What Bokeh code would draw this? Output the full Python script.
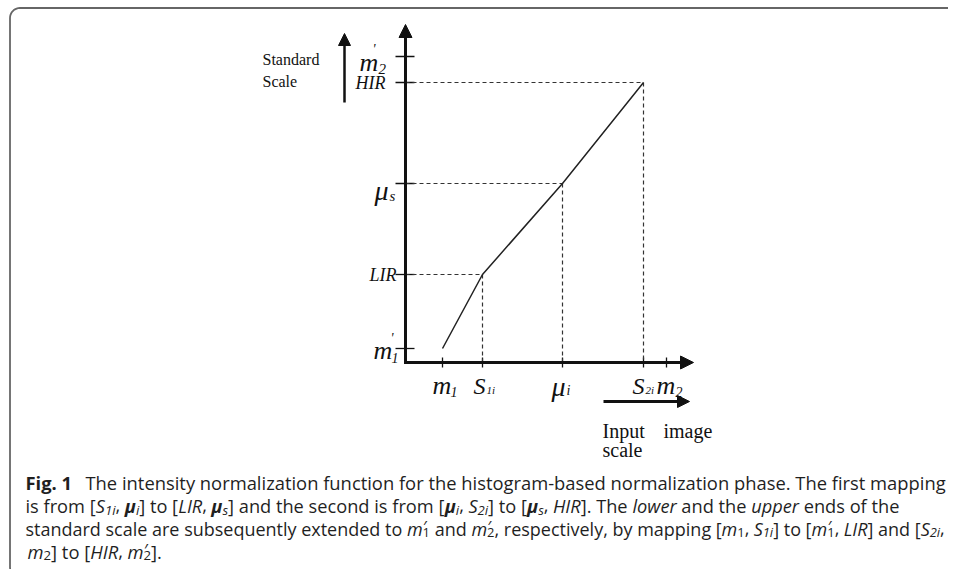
import os
import math
import struct

from bokeh.plotting import figure
from bokeh.models import Range1d, Label, Arrow, NormalHead
from bokeh.embed import file_html
from bokeh.resources import INLINE

# ---- diagram data (positions along the input / standard scales) ----
input_names = ["m1", "S1i", "mu_i", "S2i", "m2"]
input_vals = [37, 77, 157, 238, 261]
output_names = ["m1p", "LIR", "mu_s", "HIR", "m2p"]
output_vals = [14, 88, 179, 280, 306]

# mapping curve: m1->m'1, S1i->LIR, mu_i->mu_s, S2i->HIR
curve_x = [input_vals[0], input_vals[1], input_vals[2], input_vals[3]]
curve_y = [output_vals[0], output_vals[1], output_vals[2], output_vals[3]]

# dashed guides at the three landmarks
guide_x = [input_vals[1], input_vals[2], input_vals[3]]
guide_y = [output_vals[1], output_vals[2], output_vals[3]]


# ---- caption runs ----
def T(text, style="normal"):
    return ("t", text, style)


def SUB(text, style="italic"):
    return ("sub", text, style)


def SS(sup, sub):
    return ("ss", sup, sub)


caption_head = "Fig. 1"
caption_line1 = [T("The intensity normalization function for the histogram-based normalization phase. The first mapping")]
caption_line2 = [T("is from ["), T("S", "italic"), SUB("1i"), T(", "), T("\u03bc", "bold italic"), SUB("i"),
                 T("] to ["), T("LIR", "italic"), T(", "), T("\u03bc", "bold italic"), SUB("s"),
                 T("] and the second is from ["), T("\u03bc", "bold italic"), SUB("i"), T(", "),
                 T("S", "italic"), SUB("2i"), T("] to ["), T("\u03bc", "bold italic"), SUB("s"), T(", "),
                 T("HIR", "italic"), T("]. The "), T("lower", "italic"), T(" and the "), T("upper", "italic"),
                 T(" ends of the")]
caption_line3 = [T("standard scale are subsequently extended to "), T("m", "italic"), SS("\u2032", "1"),
                 T(" and "), T("m", "italic"), SS("\u2032", "2"), T(", respectively, by mapping ["),
                 T("m", "italic"), SUB("1", "normal"), T(", "), T("S", "italic"), SUB("1i"), T("] to ["),
                 T("m", "italic"), SS("\u2032", "1"), T(", "), T("LIR", "italic"), T("] and ["),
                 T("S", "italic"), SUB("2i"), T(",")]
caption_line4 = [T("m", "italic"), SUB("2", "normal"), T("] to ["), T("HIR", "italic"), T(", "),
                 T("m", "italic"), SS("\u2032", "2"), T("].")]
caption_baselines = [482, 505, 528, 551]

CAP_FONT = "Open Sans"
SERIF = "Liberation Serif"


# ---- minimal font metrics (advance widths) for laying out caption runs ----
def _u16(b, o):
    return struct.unpack_from(">H", b, o)[0]


def _i16(b, o):
    return struct.unpack_from(">h", b, o)[0]


def _u32(b, o):
    return struct.unpack_from(">I", b, o)[0]


class Metrics:
    def __init__(self, path):
        b = open(path, "rb").read()
        n = _u16(b, 4)
        t = {}
        for i in range(n):
            tag = b[12 + 16 * i:16 + 16 * i].decode("latin1")
            t[tag] = _u32(b, 12 + 16 * i + 8)
        self.upem = _u16(b, t["head"] + 18)
        nhm = _u16(b, t["hhea"] + 34)
        h = t["hmtx"]
        self.adv = [_u16(b, h + 4 * i) for i in range(nhm)]
        c = t["cmap"]
        sub = None
        for i in range(_u16(b, c + 2)):
            pid, eid = _u16(b, c + 4 + 8 * i), _u16(b, c + 6 + 8 * i)
            off = c + _u32(b, c + 8 + 8 * i)
            if _u16(b, off) == 4 and ((pid == 3 and eid == 1) or pid == 0):
                sub = off
                break
        self.cmap = {}
        seg = _u16(b, sub + 6) // 2
        ends = sub + 14
        starts = ends + 2 * seg + 2
        deltas = starts + 2 * seg
        ros = deltas + 2 * seg
        for s in range(seg):
            e = _u16(b, ends + 2 * s)
            st = _u16(b, starts + 2 * s)
            d = _i16(b, deltas + 2 * s)
            ro = _u16(b, ros + 2 * s)
            for ch in range(st, min(e, 0xFFFE) + 1):
                if ro == 0:
                    g = (ch + d) & 0xFFFF
                else:
                    g = _u16(b, ros + 2 * s + ro + 2 * (ch - st))
                    if g:
                        g = (g + d) & 0xFFFF
                self.cmap[ch] = g

    def width(self, text):
        w = 0
        for ch in text:
            g = self.cmap.get(ord(ch), 0)
            if g == 0:
                w += 0.45 * self.upem
            else:
                w += self.adv[min(g, len(self.adv) - 1)]
        return w / self.upem


class ApproxMetrics:
    def __init__(self, k):
        self.k = k

    def width(self, text):
        return sum((0.26 if c == " " else 0.55) for c in text) * self.k


def find_font(prefix, italic, bold):
    cands = []
    roots = ["/usr/share/fonts", "/usr/local/share/fonts", os.path.expanduser("~/.fonts"),
             os.path.expanduser("~/.local/share/fonts")]
    for root in roots:
        for r, _, fs in os.walk(root):
            for f in fs:
                fl = f.lower()
                if not fl.endswith((".ttf", ".otf")):
                    continue
                if not fl.replace("-", "").replace("_", "").replace(" ", "").startswith(prefix):
                    continue
                if ("italic" in fl) != italic:
                    continue
                has_bold = "bold" in fl and "semibold" not in fl and "extrabold" not in fl
                if bold and not has_bold:
                    continue
                bad = any(k in fl for k in ["light", "semi", "extra", "condensed", "medium", "black", "thin"])
                if not bold and "bold" in fl:
                    bad = True
                cands.append(((1 if bad else 0, len(fl)), os.path.join(r, f)))
    return sorted(cands)[0][1] if cands else None


def load_metrics(italic, bold, k):
    try:
        path = find_font("opensans", italic, bold)
        if path is None and bold:
            path = find_font("opensans", italic, False)
        if path:
            return Metrics(path)
    except Exception:
        pass
    return ApproxMetrics(k)


METRICS = {
    "normal": load_metrics(False, False, 1.0),
    "italic": load_metrics(True, False, 0.95),
    "bold": load_metrics(False, True, 1.06),
    "bold italic": load_metrics(True, True, 1.0),
}
SUB_K = 0.72      # subscript size factor
PRIME_W = 0.30    # prime advance (em)

# ---- layout: the canvas pixel grid is the reference frame; data origin at the axes corner ----
OX, OY = 405, 362
W, H = 948, 569


def X(px):
    return px - OX


def Y(py):
    return OY - py


p = figure(width=W, height=H, x_range=Range1d(X(0), X(W)), y_range=Range1d(Y(H), Y(0)),
           toolbar_location=None, output_backend="svg", min_border=0,
           x_axis_location=None, y_axis_location=None)
p.grid.visible = False
p.outline_line_color = None
p.background_fill_color = "white"

# frame with rounded corners (top and left sides visible)
r = 10
fx, fy = [X(W - 0.5), X(9.5 + r)], [Y(7.5), Y(7.5)]
for k in range(1, 10):
    a = math.pi / 2 + k * (math.pi / 2) / 9
    fx.append(X(9.5 + r + r * math.cos(a)))
    fy.append(Y(7.5 + r - r * math.sin(a)))
fx.append(X(9.5))
fy.append(Y(567))
for k in range(1, 10):
    a = math.pi + k * (math.pi / 2) / 9
    fx.append(X(9.5 + r + r * math.cos(a)))
    fy.append(Y(567 - r * math.sin(a)))
p.line(fx, fy, line_color="#666666", line_width=1.8)

ink = "#111111"

# axes
p.add_layout(Arrow(end=NormalHead(size=13, fill_color=ink, line_color=ink, line_width=1),
                   x_start=0, y_start=-1.5, x_end=0, y_end=Y(24), line_width=3, line_color=ink))
p.add_layout(Arrow(end=NormalHead(size=13, fill_color=ink, line_color=ink, line_width=1),
                   x_start=-1.5, y_start=0, x_end=X(693), y_end=0, line_width=3, line_color=ink))

# standard scale / input scale direction arrows
p.add_layout(Arrow(end=NormalHead(size=12, fill_color=ink, line_color=ink, line_width=1),
                   x_start=X(344), y_start=Y(102), x_end=X(344), y_end=Y(33), line_width=2.5, line_color=ink))
p.add_layout(Arrow(end=NormalHead(size=12, fill_color=ink, line_color=ink, line_width=1),
                   x_start=X(603), y_start=Y(401), x_end=X(689), y_end=Y(401), line_width=3, line_color=ink))

# ticks
p.segment(x0=[-10] * len(output_vals), y0=output_vals, x1=[9] * len(output_vals), y1=output_vals,
          line_color=ink, line_width=1.3)
p.segment(x0=input_vals, y0=[-5] * len(input_vals), x1=input_vals, y1=[5] * len(input_vals),
          line_color=ink, line_width=1.3)

# dashed guides
p.segment(x0=[0] * len(guide_x), y0=guide_y, x1=guide_x, y1=guide_y,
          line_color="#333333", line_width=1.2, line_dash="4 3")
p.segment(x0=guide_x, y0=guide_y, x1=guide_x, y1=[0] * len(guide_x),
          line_color="#333333", line_width=1.2, line_dash="4 3")

# mapping function
p.line(curve_x, curve_y, line_color="#222222", line_width=1.5)


def lab(txt, x, y, size, font=SERIF, style="italic", align="left", baseline="alphabetic", color=ink):
    p.add_layout(Label(x=X(x), y=Y(y), text=txt, text_font=font, text_font_style=style,
                       text_font_size=f"{size:.2f}px", text_align=align, text_baseline=baseline,
                       text_color=color))


# y-axis labels
lab("m", 359, 62, 26)
lab("2", 378, 68, 15)
lab("'", 372, 49, 14)
lab("HIR", 385, 82, 18, align="right", baseline="middle")
lab("\u03bc", 374, 190, 28)
lab("s", 389, 195, 15)
lab("LIR", 396, 274, 18, align="right", baseline="middle")
lab("m", 373, 350, 26)
lab("1", 391, 357, 14)
lab("'", 390, 338, 14)

# x-axis labels
lab("m", 432, 385, 26)
lab("1", 450, 391, 14)
lab("S", 473, 385, 24)
lab("1i", 486, 389, 11)
lab("\u03bc", 551, 386, 28)
lab("i", 566, 390, 14)
lab("S", 632, 385, 24)
lab("2i", 645, 389, 11)
lab("m", 656, 385, 26)
lab("2", 675, 391, 14)

# scale captions
lab("Standard", 262, 59, 16, style="normal", baseline="middle")
lab("Scale", 262, 81, 16, style="normal", baseline="middle")
lab("Input", 602, 430, 20, style="normal", baseline="middle")
lab("image", 663, 430, 20, style="normal", baseline="middle")
lab("scale", 602, 449, 20, style="normal", baseline="middle")

# ---- caption ----
cap_color = "#1f1f1f"


def run_width(runs, size):
    w = 0.0
    for run in runs:
        if run[0] == "t":
            w += METRICS[run[2]].width(run[1]) * size
        elif run[0] == "sub":
            w += METRICS[run[2]].width(run[1]) * size * SUB_K
        else:
            w += max(PRIME_W * size, METRICS["normal"].width(run[2]) * size * SUB_K)
    return w


def caption_run_line(runs, x, base, size):
    for run in runs:
        if run[0] == "t":
            _, txt, st = run
            m = METRICS[st]
            lead = len(txt) - len(txt.lstrip(" "))
            core = txt.strip(" ")
            if core:
                lab(core, x + m.width(" " * lead) * size, base, size, font=CAP_FONT, style=st, color=cap_color)
            x += m.width(txt) * size
        elif run[0] == "sub":
            _, txt, st = run
            s2 = size * SUB_K
            lab(txt, x, base + size * 0.22, s2, font=CAP_FONT, style=st, color=cap_color)
            x += METRICS[st].width(txt) * s2
        else:
            _, sup, sb = run
            s2 = size * SUB_K
            lab(sup, x + 0.5, base - size * 0.10, size * 0.95, font=CAP_FONT, style="normal", color=cap_color)
            lab(sb, x, base + size * 0.24, s2, font=CAP_FONT, style="normal", color=cap_color)
            x += max(PRIME_W * size, METRICS["normal"].width(sb) * s2)


def fit(runs, x0, x1, ref):
    s = (x1 - x0) / max(run_width(runs, 1.0), 1e-6)
    return max(ref * 0.95, min(ref * 1.05, s))


size1 = max(14.0, min(20.0, (946 - 85) / run_width(caption_line1, 1.0)))
size2 = fit(caption_line2, 25, 899, size1)
size3 = fit(caption_line3, 25, 944, size1)

lab(caption_head, 25, caption_baselines[0], size1, font=CAP_FONT, style="bold", color=cap_color)
caption_run_line(caption_line1, 85, caption_baselines[0], size1)
caption_run_line(caption_line2, 25, caption_baselines[1], size2)
caption_run_line(caption_line3, 25, caption_baselines[2], size3)
caption_run_line(caption_line4, 27, caption_baselines[3], size1)

open("out.html", "w").write(file_html(p, INLINE))
